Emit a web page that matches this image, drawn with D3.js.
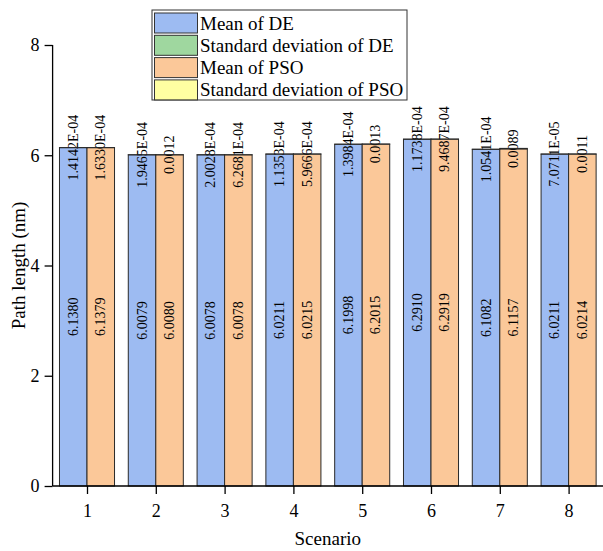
<!DOCTYPE html>
<html>
<head>
<meta charset="utf-8">
<script src="https://cdn.jsdelivr.net/npm/d3@7"></script>
<style>
  body { margin: 0; background: #fff; }
  text { font-family: "Liberation Serif", "Times New Roman", serif; fill: #000; }
  .traka { stroke: #2a2a2a; stroke-width: 1; }
</style>
</head>
<body>
<div id="okvir"></div>
<script>
// podaci
const scenariji = ["1", "2", "3", "4", "5", "6", "7", "8"]
const srednjaDE = [6.1380, 6.0079, 6.0078, 6.0211, 6.1998, 6.2910, 6.1082, 6.0211]
const srednjaPSO = [6.1379, 6.0080, 6.0078, 6.0215, 6.2015, 6.2919, 6.1157, 6.0214]
const devDE = [1.4142e-4, 1.9465e-4, 2.0028e-4, 1.1353e-4, 1.3984e-4, 1.1738e-4, 1.0541e-4, 7.0711e-5]
const devPSO = [1.6330e-4, 0.0012, 6.2681e-4, 5.9666e-4, 0.0013, 9.4687e-4, 0.0089, 0.0011]
const oznakeDevDE = ["1.4142E-04", "1.9465E-04", "2.0028E-04", "1.1353E-04", "1.3984E-04", "1.1738E-04", "1.0541E-04", "7.0711E-05"]
const oznakeDevPSO = ["1.6330E-04", "0.0012", "6.2681E-04", "5.9666E-04", "0.0013", "9.4687E-04", "0.0089", "0.0011"]
const yTicks = [0, 2, 4, 6, 8]
const legenda = ["Mean of DE", "Standard deviation of DE", "Mean of PSO", "Standard deviation of PSO"]
const boje = ["#9dbbf2", "#9fd79f", "#fbc899", "#ffffa2"]

const dimenzije = {
  sirina: 603,
  visina: 551,
  margine: { top: 45, right: 0, bottom: 65, left: 52.6 },
}

const okvir = d3.select("#okvir").append("svg")
    .attr("width", dimenzije.sirina)
    .attr("height", dimenzije.visina)

const x = d3.scaleLinear()
    .domain([0.5, 8.5])
    .range([dimenzije.margine.left, dimenzije.sirina - dimenzije.margine.right])

const y = d3.scaleLinear()
    .domain([0, 8])
    .range([dimenzije.visina - dimenzije.margine.bottom, dimenzije.margine.top])

const korak = x(2) - x(1)
const sirinaTrake = korak * 0.4

const grupe = [
  { srednja: srednjaDE, dev: devDE, oznake: oznakeDevDE, bojaS: boje[0], bojaD: boje[1], pomak: -1 },
  { srednja: srednjaPSO, dev: devPSO, oznake: oznakeDevPSO, bojaS: boje[2], bojaD: boje[3], pomak: 0 },
]

const trake = okvir.append("g")

grupe.forEach(g => {
  // trake srednjih vrijednosti
  trake.selectAll(null)
    .data(scenariji)
    .join("rect")
      .attr("class", "traka")
      .attr("x", (d, i) => x(+d) + g.pomak * sirinaTrake)
      .attr("width", sirinaTrake)
      .attr("y", (d, i) => y(g.srednja[i]))
      .attr("height", (d, i) => y(0) - y(g.srednja[i]))
      .attr("fill", g.bojaS)
})

grupe.forEach(g => {
  // oznake srednjih vrijednosti
  trake.selectAll(null)
    .data(scenariji)
    .join("text")
      .attr("transform", (d, i) => `translate(${x(+d) + g.pomak * sirinaTrake + sirinaTrake / 2},${(y(g.srednja[i]) + y(0)) / 2}) rotate(-90)`)
      .attr("text-anchor", "middle")
      .attr("dominant-baseline", "central")
      .style("font-size", "14px")
      .text((d, i) => g.srednja[i].toFixed(4))

  // oznake devijacija
  trake.selectAll(null)
    .data(scenariji)
    .join("text")
      .attr("transform", (d, i) => `translate(${x(+d) + g.pomak * sirinaTrake + sirinaTrake / 2},${y(g.srednja[i] + g.dev[i] / 2)}) rotate(-90)`)
      .attr("text-anchor", "middle")
      .attr("dominant-baseline", "central")
      .style("font-size", "14px")
      .text((d, i) => g.oznake[i])
})

grupe.forEach(g => {
  // naslagane trake devijacija
  trake.selectAll(null)
    .data(scenariji)
    .join("rect")
      .attr("class", "traka")
      .attr("x", (d, i) => x(+d) + g.pomak * sirinaTrake)
      .attr("width", sirinaTrake)
      .attr("y", (d, i) => y(g.srednja[i] + g.dev[i]))
      .attr("height", (d, i) => y(g.srednja[i]) - y(g.srednja[i] + g.dev[i]))
      .attr("fill", g.bojaD)
})

// osi
const osX = okvir.append("g")
    .attr("transform", `translate(0,${y(0)})`)
osX.call(d3.axisBottom(x).tickValues(d3.range(0.5, 8.6, 1)).tickSize(4).tickFormat(""))
osX.call(d3.axisBottom(x).tickValues(scenariji.map(Number)).tickSize(8).tickPadding(10).tickFormat((d, i) => scenariji[i]))
osX.selectAll(".domain").attr("d", `M${x(0.5)},0H${x(8.5)}`)

const osY = okvir.append("g")
    .attr("transform", `translate(${x(0.5)},0)`)
osY.call(d3.axisLeft(y).tickValues([1, 3, 5, 7]).tickSize(4).tickFormat(""))
osY.call(d3.axisLeft(y).tickValues(yTicks).tickSize(8).tickPadding(5))
osY.selectAll(".domain").attr("d", `M0,${y(0)}V${y(8)}`)

okvir.selectAll(".domain, .tick line").attr("stroke", "#000").attr("stroke-width", 1.3)
okvir.selectAll(".tick text")
    .style("font-family", "'Liberation Serif', serif")
    .style("font-size", "18px")
    .attr("fill", "#000")

okvir.append("text")
    .attr("x", (x(0.5) + x(8.5)) / 2)
    .attr("y", 545)
    .attr("text-anchor", "middle")
    .style("font-size", "19px")
    .text("Scenario")

okvir.append("text")
    .attr("transform", `translate(25,${(y(0) + y(8)) / 2}) rotate(-90)`)
    .attr("text-anchor", "middle")
    .style("font-size", "19px")
    .text("Path length (nm)")

// legenda
const leg = okvir.append("g").attr("transform", "translate(152,10)")
leg.append("rect")
    .attr("width", 255)
    .attr("height", 90)
    .attr("fill", "#fff")
    .attr("stroke", "#333")
    .attr("stroke-width", 1)
legenda.forEach((t, i) => {
  leg.append("rect")
      .attr("x", 2.5)
      .attr("y", 3 + i * 22.3)
      .attr("width", 43)
      .attr("height", 20)
      .attr("fill", boje[i])
      .attr("stroke", "#333")
  leg.append("text")
      .attr("x", 48)
      .attr("y", 13 + i * 22.3)
      .attr("dominant-baseline", "central")
      .style("font-size", "19px")
      .text(t)
})
</script>
</body>
</html>
